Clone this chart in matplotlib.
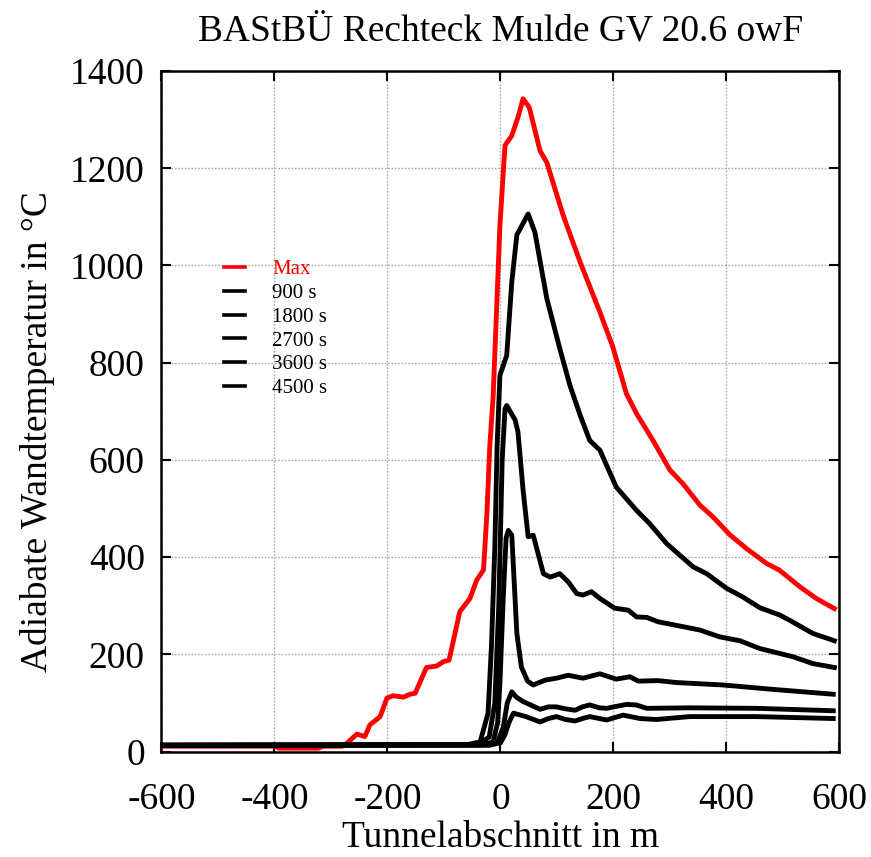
import matplotlib
matplotlib.use("Agg")
import matplotlib.pyplot as plt

plt.rcParams['font.family'] = ['Liberation Serif', 'DejaVu Serif']
plt.rcParams['axes.unicode_minus'] = False

# Tunnelabschnitt (m) / adiabate Wandtemperatur (°C)
max_x = [-600, -400, -392, -322, -314, -280, -272, -254, -240, -231, -213, -201, -190, -172,
         -160, -151, -131, -113, -101, -91, -72, -54, -42, -30, -24, -19, -13, -1, 8, 20,
         31, 40, 51, 70, 82, 111, 141, 176, 199, 223, 241, 270, 300, 323, 353, 376, 406,
         435, 471, 494, 530, 559, 591]
max_y = [11, 11, 7, 7, 11, 11, 17, 36, 31, 55, 72, 110, 115, 112,
         118, 120, 173, 176, 185, 188, 288, 315, 353, 374, 490, 627, 730, 1082, 1247, 1267,
         1305, 1343, 1325, 1236, 1212, 1103, 1007, 904, 832, 736, 695, 640, 579, 551, 507, 483, 446,
         418, 387, 373, 339, 315, 294]

t1_x = [-600, -60, -36, -22, -16, -10, -6, -1, 11, 20, 29, 49, 61, 82, 105, 123, 141,
        158, 176, 205, 241, 264, 294, 341, 365, 400, 429, 459, 494, 512, 553, 591]
t1_y = [13, 14, 20, 79, 216, 421, 627, 774, 815, 966, 1063, 1106, 1068, 932, 829, 753, 692,
        640, 620, 544, 496, 469, 428, 380, 366, 336, 318, 296, 281, 270, 243, 228]

t2_x = [-600, -40, -20, -10, -3, 3, 8, 11, 26, 31, 40, 49, 58, 76, 88, 105, 120, 135, 146,
        161, 176, 202, 226, 241, 259, 279, 323, 353, 388, 424, 459, 494, 518, 553, 591]
t2_y = [13, 14, 30, 100, 300, 600, 705, 712, 682, 657, 538, 442, 445, 366, 359, 366, 349, 325, 322,
        329, 315, 295, 291, 277, 276, 267, 257, 250, 236, 228, 212, 202, 195, 181, 173]

t3_x = [-600, -30, -13, -5, -1, 5, 10, 14, 20, 29, 37, 48, 58, 79, 99, 120, 146, 176, 205,
        229, 244, 279, 312, 394, 482, 589]
t3_y = [13, 14, 20, 60, 141, 320, 440, 455, 445, 243, 174, 145, 137, 147, 151, 157, 151, 160, 149,
        154, 145, 146, 142, 137, 128, 118]

t4_x = [-600, -20, -5, 5, 12, 20, 28, 40, 55, 70, 85, 99, 115, 132, 145, 158, 175, 188, 205,
        223, 240, 259, 335, 453, 589]
t4_y = [13, 14, 20, 50, 100, 123, 112, 103, 95, 87, 92, 92, 88, 85, 92, 96, 90, 89, 93,
        97, 96, 89, 90, 89, 84]

t5_x = [-600, -20, 0, 8, 15, 23, 45, 70, 85, 99, 115, 132, 145, 158, 175, 188, 217, 247, 276,
        335, 453, 589]
t5_y = [13, 13, 18, 35, 60, 79, 72, 61, 68, 72, 66, 63, 68, 72, 68, 65, 75, 68, 66,
        72, 72, 68]

labels = ['Max', '900 s', '1800 s', '2700 s', '3600 s', '4500 s']

fig = plt.figure(figsize=(8.71, 8.57), dpi=100)
ax = fig.add_axes([0.1854, 0.1230, 0.7784, 0.7941])

ax.plot(max_x, max_y, color='red', lw=3.5, label=labels[0], zorder=2)
serien = [(t5_x, t5_y), (t4_x, t4_y), (t3_x, t3_y), (t2_x, t2_y), (t1_x, t1_y)]
for (xs, ys), lab in zip(serien, labels[1:]):
    ax.plot(xs, ys, color='black', lw=3.5, label=lab, zorder=3)

ax.set_xlim(-600, 600)
ax.set_ylim(0, 1400)
ax.set_xticks(range(-600, 601, 200))
ax.set_yticks(range(0, 1401, 200))
ax.grid(True, color='#aaaaaa', linestyle=(0, (1.2, 1.2)), linewidth=1.0)
ax.set_axisbelow(True)

for sp in ax.spines.values():
    sp.set_linewidth(1.8)

ax.tick_params(axis='both', direction='in', length=7, width=1.5,
               top=True, right=True, labelsize=27)
ax.tick_params(axis='x', pad=22)
ax.tick_params(axis='y', pad=12)

ax.set_title('BAStBÜ Rechteck Mulde GV 20.6 owF', fontsize=27, pad=22)
ax.set_xlabel('Tunnelabschnitt in m', fontsize=27, labelpad=3)
ax.set_ylabel('Adiabate Wandtemperatur in °C', fontsize=27, labelpad=11)
ax.yaxis.label.set_y(0.47)

leg = ax.legend(loc='upper left', bbox_to_anchor=(0.080, 0.735), frameon=False,
                fontsize=15, handlelength=1.0, handletextpad=1.3, labelspacing=0.2,
                labelcolor='linecolor', borderaxespad=0)
for h in leg.get_lines():
    h.set_linewidth(2.6)

fig.savefig('out.png', dpi=100)
